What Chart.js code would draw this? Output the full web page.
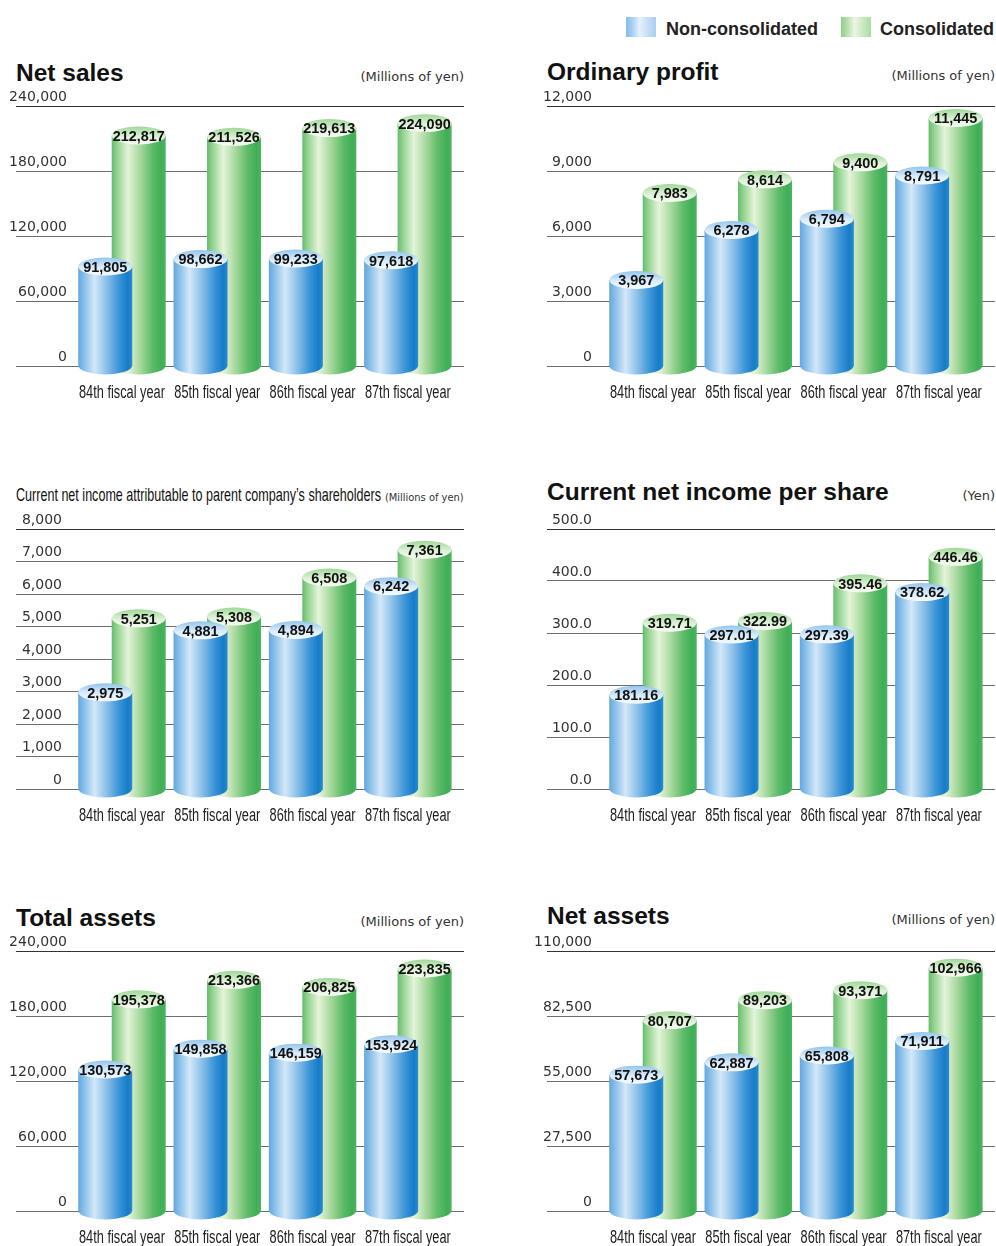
<!DOCTYPE html>
<html>
<head>
<meta charset="utf-8">
<script src="https://cdn.jsdelivr.net/npm/chart.js@4.4.1/dist/chart.umd.min.js"></script>
<style>
  body { margin: 0; width: 996px; height: 1246px; overflow: hidden; background: #fff; position: relative; }
  .txt { position: absolute; white-space: nowrap; line-height: 1; }
  .title { font-family: "Liberation Sans", Arial, sans-serif; font-weight: bold; color: #111; }
  .narrow { font-family: "Liberation Sans", Arial, sans-serif; color: #111; }
  .unit { font-family: "DejaVu Sans", sans-serif; color: #333; }
  .legtxt { font-family: "Liberation Sans", Arial, sans-serif; font-weight: bold; color: #222; }
  .swatch { position: absolute; width: 30px; height: 20px; top: 17px; }
  canvas { position: absolute; }
</style>
</head>
<body>
<div class="swatch" style="left:626px;background:linear-gradient(90deg,#86bce8 0%,#a6cff0 20%,#e4f1fb 45%,#c9e1f6 70%,#a9cff0 100%)"></div>
<div class="swatch" style="left:841px;background:linear-gradient(90deg,#8fcf8c 0%,#b3e0aa 20%,#eaf6e3 45%,#cdebc4 70%,#abdca2 100%)"></div>
<script>
const categories = ['84th fiscal year', '85th fiscal year', '86th fiscal year', '87th fiscal year'];

const netSalesNon = [91805, 98662, 99233, 97618];
const netSalesCon = [212817, 211526, 219613, 224090];
const netSalesTicks = [0, 60000, 120000, 180000, 240000];

const ordinaryNon = [3967, 6278, 6794, 8791];
const ordinaryCon = [7983, 8614, 9400, 11445];
const ordinaryTicks = [0, 3000, 6000, 9000, 12000];

const netIncomeNon = [2975, 4881, 4894, 6242];
const netIncomeCon = [5251, 5308, 6508, 7361];
const netIncomeTicks = [0, 1000, 2000, 3000, 4000, 5000, 6000, 7000, 8000];

const perShareNon = [181.16, 297.01, 297.39, 378.62];
const perShareCon = [319.71, 322.99, 395.46, 446.46];
const perShareTicks = [0, 100, 200, 300, 400, 500];

const totalAssetsNon = [130573, 149858, 146159, 153924];
const totalAssetsCon = [195378, 213366, 206825, 223835];
const totalAssetsTicks = [0, 60000, 120000, 180000, 240000];

const netAssetsNon = [57673, 62887, 65808, 71911];
const netAssetsCon = [80707, 89203, 93371, 102966];
const netAssetsTicks = [0, 27500, 55000, 82500, 110000];

const fmtInt = v => v.toLocaleString('en-US');
const fmtOne = v => v.toFixed(1);
const fmtTwo = v => v.toFixed(2);

const tickFont = '14px "DejaVu Sans", sans-serif';

// cylinder colours
const blueFace = {
  body: [[0, '#62a8de'], [0.1, '#86bde8'], [0.3, '#d3e8f8'], [0.5, '#93c4eb'], [0.75, '#3d95d8'], [0.92, '#167cc9'], [1, '#2b88cf']],
  cap: [[0, '#94c5ec'], [0.55, '#d9ecfa'], [1, '#f6fbff']]
};
const greenFace = {
  body: [[0, '#63bd6d'], [0.1, '#94d38f'], [0.3, '#e4f4da'], [0.5, '#aedca3'], [0.75, '#5fbb69'], [0.92, '#3fae57'], [1, '#4bb460']],
  cap: [[0, '#9fd898'], [0.55, '#ddf1d6'], [1, '#f6fcf3']]
};

function drawCylinder(ctx, x, top, base, w, face, text) {
  const rx = w / 2, ry = 9;
  ctx.save();
  const g = ctx.createLinearGradient(x - rx, 0, x + rx, 0);
  face.body.forEach(s => g.addColorStop(s[0], s[1]));
  ctx.beginPath();
  ctx.moveTo(x - rx, top);
  ctx.lineTo(x - rx, base);
  ctx.ellipse(x, base, rx, ry, 0, Math.PI, 0, true);
  ctx.lineTo(x + rx, top);
  ctx.closePath();
  ctx.fillStyle = g;
  ctx.fill();

  const cg = ctx.createLinearGradient(0, top - ry, 0, top + ry);
  face.cap.forEach(s => cg.addColorStop(s[0], s[1]));
  ctx.beginPath();
  ctx.ellipse(x, top, rx, ry, 0, 0, Math.PI * 2);
  ctx.fillStyle = cg;
  ctx.fill();

  ctx.translate(x, top + 1);
  ctx.scale(0.93, 1);
  ctx.fillStyle = '#111';
  ctx.font = 'bold 15.5px "Liberation Sans", Arial, sans-serif';
  ctx.textAlign = 'center';
  ctx.textBaseline = 'middle';
  ctx.fillText(text, 0, 0);
  ctx.restore();
}

const cylinderPlugin = {
  id: 'cylinders',
  afterDatasetsDraw(chart) {
    const ctx = chart.ctx;
    [1, 0].forEach(d => {
      const ds = chart.data.datasets[d];
      chart.getDatasetMeta(d).data.forEach((bar, i) => {
        const p = bar.getProps(['x', 'y', 'base', 'width'], true);
        drawCylinder(ctx, p.x, p.y, p.base, p.width, ds.face, ds.fmt(ds.data[i].y));
      });
    });
  }
};

// condensed category labels under the x scale
const xLabelPlugin = {
  id: 'xlabels',
  afterDraw(chart) {
    const sx = chart.scales.x, ctx = chart.ctx;
    ctx.save();
    ctx.fillStyle = '#222';
    ctx.font = '18px "Liberation Sans", Arial, sans-serif';
    ctx.textAlign = 'center';
    ctx.textBaseline = 'alphabetic';
    sx.ticks.forEach(t => {
      ctx.save();
      ctx.translate(sx.getPixelForValue(t.value), chart.chartArea.bottom + 32);
      ctx.scale(0.71, 1);
      ctx.fillText(categories[t.value], 0, 0);
      ctx.restore();
    });
    ctx.restore();
  }
};

function addText(txt, cls, size, base, left, right) {
  const el = document.createElement('div');
  el.className = 'txt ' + cls;
  el.textContent = txt;
  el.style.fontSize = size + 'px';
  el.style.top = (base - 0.846 * size) + 'px';
  if (right != null) el.style.right = (996 - right) + 'px';
  else el.style.left = left + 'px';
  document.body.appendChild(el);
  return el;
}

function squeeze(el, width, origin) {
  el.style.transformOrigin = origin;
  el.style.transform = 'scaleX(' + (width / el.offsetWidth) + ')';
}

addText('Non-consolidated', 'legtxt', 18, 35, 666);
addText('Consolidated', 'legtxt', 18, 35, null, 994);

const meas = document.createElement('canvas').getContext('2d');
meas.font = tickFont;

const panels = [
  { title: 'Net sales', unit: '(Millions of yen)', col: 0, top: 106, tb: 82, non: netSalesNon, con: netSalesCon, ticks: netSalesTicks, labelRight: 51, tick: fmtInt, val: fmtInt },
  { title: 'Ordinary profit', unit: '(Millions of yen)', col: 1, top: 106, tb: 81, non: ordinaryNon, con: ordinaryCon, ticks: ordinaryTicks, labelRight: 45, tick: fmtInt, val: fmtInt },
  { title: 'Current net income attributable to parent company\u2019s shareholders', unit: '(Millions of yen)', col: 0, top: 529, tb: 501, narrow: true, non: netIncomeNon, con: netIncomeCon, ticks: netIncomeTicks, labelRight: 46, tick: fmtInt, val: fmtInt },
  { title: 'Current net income per share', unit: '(Yen)', col: 1, top: 529, tb: 501, non: perShareNon, con: perShareCon, ticks: perShareTicks, labelRight: 45, tick: fmtOne, val: fmtTwo },
  { title: 'Total assets', unit: '(Millions of yen)', col: 0, top: 951, tb: 927, non: totalAssetsNon, con: totalAssetsCon, ticks: totalAssetsTicks, labelRight: 51, tick: fmtInt, val: fmtInt },
  { title: 'Net assets', unit: '(Millions of yen)', col: 1, top: 951, tb: 925, non: netAssetsNon, con: netAssetsCon, ticks: netAssetsTicks, labelRight: 45, tick: fmtInt, val: fmtInt }
];

panels.forEach(p => {
  const left = p.col ? 547 : 16;
  const right = p.col ? 995 : 464;
  if (p.narrow) {
    squeeze(addText(p.title, 'narrow', 19, p.tb, left), 365, 'left');
    squeeze(addText(p.unit, 'unit', 11, p.tb, null, right), 79, 'right');
  } else {
    addText(p.title, 'title', 24.5, p.tb, left);
    addText(p.unit, 'unit', 13, p.tb - 1, null, right);
  }

  const cv = document.createElement('canvas');
  cv.width = p.col ? 465 : 480;
  cv.height = 340;
  cv.style.left = (p.col ? 531 : 0) + 'px';
  cv.style.top = (p.top - 40) + 'px';
  document.body.appendChild(cv);

  const yMax = p.ticks[p.ticks.length - 1];
  const widest = Math.max(...p.ticks.map(v => meas.measureText(p.tick(v)).width));

  new Chart(cv, {
    type: 'bar',
    data: {
      datasets: [
        { label: 'Non-consolidated', data: p.non.map((v, i) => ({ x: i, y: v })), face: blueFace, fmt: p.val,
          backgroundColor: 'rgba(0,0,0,0)', borderWidth: 0, categoryPercentage: 0.703, barPercentage: 1.612 },
        { label: 'Consolidated', data: p.con.map((v, i) => ({ x: i, y: v })), face: greenFace, fmt: p.val,
          backgroundColor: 'rgba(0,0,0,0)', borderWidth: 0, categoryPercentage: 0.703, barPercentage: 1.612 }
      ]
    },
    options: {
      responsive: false,
      animation: false,
      events: [],
      layout: { padding: { top: 40, left: 16, right: p.col ? 1 : 16, bottom: 0 } },
      plugins: { legend: { display: false }, tooltip: { enabled: false } },
      scales: {
        x: {
          type: 'linear', min: -1.112, max: 3.589, offset: false,
          grid: { display: false, offset: false }, border: { display: false },
          afterBuildTicks: s => { s.ticks = categories.map((c, i) => ({ value: i })); },
          afterFit: s => { s.height = 40; },
          ticks: { display: false }
        },
        y: {
          min: 0, max: yMax,
          afterBuildTicks: s => { s.ticks = p.ticks.map(v => ({ value: v })); },
          afterFit: s => { s.width = 0; },
          grid: { drawTicks: false, color: c => (c.tick && c.tick.value === yMax) ? '#333' : '#6e6e6e', lineWidth: 1 },
          border: { display: false },
          ticks: {
            mirror: true, crossAlign: 'far', padding: p.labelRight - widest, labelOffset: -9, color: '#333',
            font: { family: '"DejaVu Sans", sans-serif', size: 14 },
            callback: v => p.tick(v)
          }
        }
      }
    },
    plugins: [cylinderPlugin, xLabelPlugin]
  });
});
</script>
</body>
</html>
